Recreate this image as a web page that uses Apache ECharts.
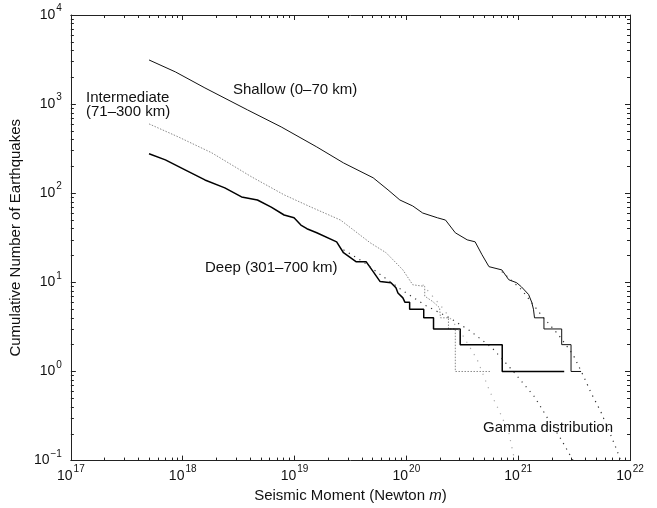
<!DOCTYPE html>
<html><head><meta charset="utf-8">
<script src="https://cdn.jsdelivr.net/npm/echarts@6/dist/echarts.min.js"></script>
<style>html,body{margin:0;padding:0;background:#fff}#c{width:657px;height:508px}</style>
</head><body><div id="c"></div>
<script>
// Axis exponents (tick labels are 10^n)
const xExponents = [17, 18, 19, 20, 21, 22];
const yExponents = [-1, 0, 1, 2, 3, 4];

// Shallow (0-70 km)
const shallowMoment = [5.0e17, 8.6e17, 1.58e18, 3.8e18, 7.6e18, 1.58e19, 2.74e19, 5.05e19, 6.86e19, 8.75e19, 1.14e20, 1.40e20, 1.90e20, 2.24e20, 2.74e20, 3.50e20, 4.12e20, 4.75e20, 5.48e20, 7.14e20, 8.24e20, 9.7e20, 1.07e21, 1.24e21, 1.32e21, 1.37e21, 1.40e21, 1.70e21, 1.70e21, 2.45e21, 2.45e21, 2.97e21, 2.97e21, 3.65e21];
const shallowCount  = [3130, 2300, 1520, 861, 555, 331, 219, 149, 109, 84, 72, 60, 53, 50, 36, 30, 28.5, 20.4, 15, 13.8, 10.7, 9.9, 8.9, 7.3, 6, 5, 4, 4, 3, 3, 2, 2, 1, 1];

// Intermediate (71-300 km)
const interMoment = [5.0e17, 9.12e17, 1.82e18, 4.12e18, 8.07e18, 1.40e19, 2.58e19, 4.75e19, 6.59e19, 9.31e19, 1.14e20, 1.46e20, 1.46e20, 1.72e20, 1.98e20, 2.02e20, 2.38e20, 2.38e20, 2.74e20, 2.74e20, 5.6e20];
const interCount  = [600, 429, 284, 153, 96, 70, 50, 27.8, 21.5, 13.8, 9.4, 9, 7, 6.1, 5.2, 4, 4, 3, 3, 1, 1];

// Deep (301-700 km)
const deepMoment = [5.0e17, 7.0e17, 1.05e18, 1.58e18, 2.38e18, 3.36e18, 4.66e18, 6.19e18, 8.07e18, 9.9e18, 1.14e19, 1.29e19, 1.58e19, 2.38e19, 2.74e19, 3.57e19, 4.38e19, 5.05e19, 5.83e19, 7.29e19, 8.07e19, 8.41e19, 9.31e19, 9.7e19, 1.07e20, 1.07e20, 1.43e20, 1.43e20, 1.75e20, 1.75e20, 3.03e20, 3.03e20, 7.2e20, 7.2e20, 2.58e21];
const deepCount  = [277, 237, 183, 141, 115, 91, 84, 70, 57, 53, 44, 40, 36, 28.5, 21.5, 17, 17, 13.2, 10.2, 9.9, 8.7, 7.6, 6.7, 6, 6, 5, 5, 4, 4, 3, 3, 2, 2, 1, 1];

// Gamma distribution fits
const gammaShallowMoment = [7.14e20, 1.07e21, 1.61e21, 2.28e21, 3.10e21, 3.87e21, 4.47e21, 5.48e21, 6.71e21, 7.6e21, 8.24e21];
const gammaShallowCount  = [13.2, 8.3, 4.3, 2.6, 1.54, 0.87, 0.58, 0.354, 0.195, 0.133, 0.1];
const gammaDeepMoment = [2.74e19, 4.12e19, 6.2e19, 9.31e19, 1.49e20, 2.43e20, 3.65e20, 5.82e20, 8.75e20, 1.40e21, 1.86e21, 2.43e21, 3.10e21];
const gammaDeepCount  = [23.2, 17, 11.6, 8.05, 5.5, 4.0, 2.9, 1.85, 1.05, 0.52, 0.29, 0.172, 0.1];
const gammaInterMoment = [1.40e20, 2.10e20, 3.16e20, 4.30e20, 5.6e20, 6.71e20, 8.24e20, 9.31e20];
const gammaInterCount  = [9.4, 5.2, 2.6, 1.36, 0.59, 0.37, 0.206, 0.1];

const FONT = '"Liberation Sans", Arial, Helvetica, sans-serif';
const TXT = '#111';

function zip(a, b) { return a.map((v, i) => [v, b[i]]); }
function expLabel(v) {
  const e = Math.round(Math.log10(v));
  return '{b|10}{s|' + (e < 0 ? '\u2212' + (-e) : e) + '}';
}
const richLab = {
  b: { fontSize: 14, fontFamily: FONT, color: TXT },
  s: { fontSize: 10, fontFamily: FONT, color: TXT, padding: [0, 0, 13, 1] }
};

function xAx(pos, labels) {
  return {
    type: 'log', logBase: 10, position: pos,
    min: Math.pow(10, xExponents[0]), max: Math.pow(10, xExponents[xExponents.length - 1]),
    interval: 1,
    axisLine: { show: true, onZero: false, lineStyle: { color: '#222', width: 1 } },
    axisTick: { show: true, inside: true, length: 5, lineStyle: { color: '#222' } },
    minorTick: { show: true, splitNumber: 9, length: 3, lineStyle: { color: '#222' } },
    axisLabel: { show: labels, margin: 4, formatter: expLabel, rich: richLab },
    splitLine: { show: false },
    name: labels ? '{n|Seismic Moment (Newton }{i|m}{n|)}' : '',
    nameLocation: 'middle', nameGap: 25,
    nameTextStyle: { rich: { n: { fontSize: 15, fontFamily: FONT, color: TXT }, i: { fontSize: 15, fontFamily: FONT, color: TXT, fontStyle: 'italic' } } }
  };
}
function yAx(pos, labels) {
  return {
    type: 'log', logBase: 10, position: pos,
    min: Math.pow(10, yExponents[0]), max: Math.pow(10, yExponents[yExponents.length - 1]),
    interval: 1,
    axisLine: { show: true, onZero: false, lineStyle: { color: '#222', width: 1 } },
    axisTick: { show: true, inside: true, length: 5, lineStyle: { color: '#222' } },
    minorTick: { show: true, splitNumber: 9, length: 3, lineStyle: { color: '#222' } },
    axisLabel: { show: labels, margin: 9, formatter: expLabel, rich: richLab },
    splitLine: { show: false },
    name: labels ? 'Cumulative Number of Earthquakes' : '',
    nameLocation: 'middle', nameGap: 34,
    nameTextStyle: { fontSize: 15, fontFamily: FONT, color: TXT }
  };
}

const chart = echarts.init(document.getElementById('c'), null, { renderer: 'canvas' });
function lineSeries(name, m, n, style) {
  return { name: name, type: 'line', xAxisIndex: 0, yAxisIndex: 0, data: zip(m, n), showSymbol: false, symbol: 'none', animation: false, lineStyle: style, z: 3 };
}
chart.setOption({
  animation: false,
  backgroundColor: '#fff',
  grid: { left: 64, right: 27, top: 15, bottom: 47, containLabel: false },
  xAxis: [xAx('bottom', true), xAx('top', false)],
  yAxis: [yAx('left', true), yAx('right', false)],
  series: [
    lineSeries('Shallow (0-70 km)', shallowMoment, shallowCount, { color: '#111', width: 1 }),
    lineSeries('Intermediate (71-300 km)', interMoment, interCount, { color: '#8a8a8a', width: 1, type: [1.5, 1.5] }),
    lineSeries('Deep (301-700 km)', deepMoment, deepCount, { color: '#000', width: 1.5 }),
    lineSeries('Gamma shallow', gammaShallowMoment, gammaShallowCount, { color: '#333', width: 1.2, type: [1.2, 5] }),
    lineSeries('Gamma deep', gammaDeepMoment, gammaDeepCount, { color: '#333', width: 1.2, type: [1.2, 5] }),
    lineSeries('Gamma intermediate', gammaInterMoment, gammaInterCount, { color: '#aaa', width: 1.2, type: [1.2, 6] })
  ],
  graphic: [
    { type: 'text', left: 233, top: 82, style: { text: 'Shallow (0\u201370 km)', font: '15px ' + FONT, fill: TXT } },
    { type: 'text', left: 86, top: 90, style: { text: 'Intermediate', font: '15px ' + FONT, fill: TXT } },
    { type: 'text', left: 86, top: 104, style: { text: '(71\u2013300 km)', font: '15px ' + FONT, fill: TXT } },
    { type: 'text', left: 205, top: 260, style: { text: 'Deep (301\u2013700 km)', font: '15px ' + FONT, fill: TXT } },
    { type: 'text', left: 483, top: 420, style: { text: 'Gamma distribution', font: '15px ' + FONT, fill: TXT } }
  ]
});
</script></body></html>
